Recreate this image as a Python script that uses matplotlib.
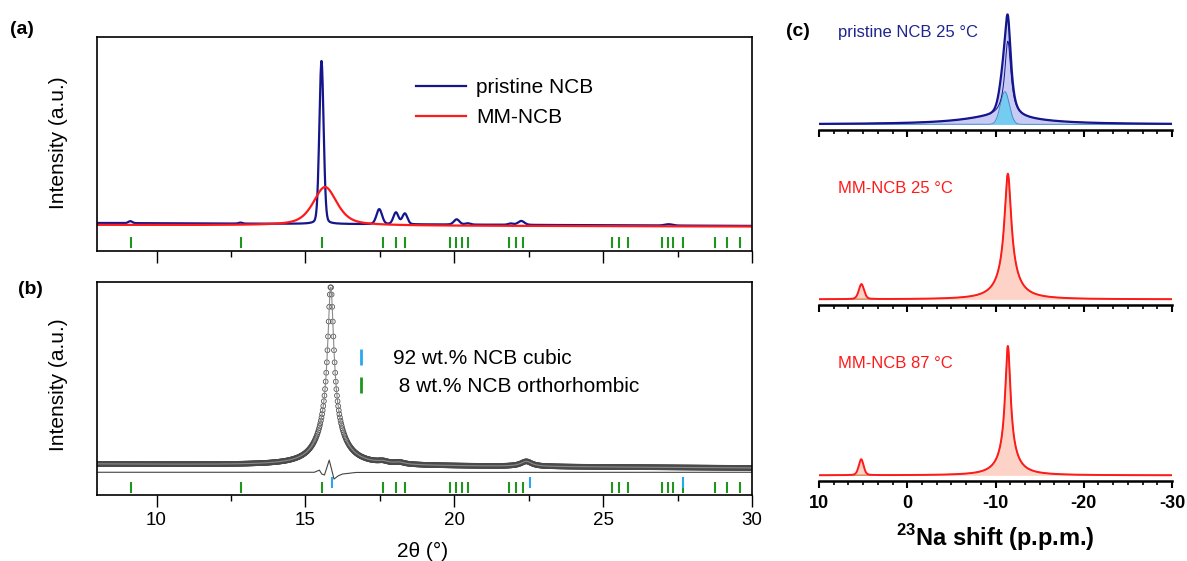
import numpy as np
import matplotlib.pyplot as plt
from matplotlib.ticker import MultipleLocator, AutoMinorLocator
from matplotlib.lines import Line2D

plt.rcParams['font.family'] = ['Liberation Sans', 'DejaVu Sans']
plt.rcParams['mathtext.fontset'] = 'custom'
plt.rcParams['mathtext.rm'] = 'Liberation Sans'
plt.rcParams['mathtext.bf'] = 'Liberation Sans:bold'
plt.rcParams['axes.unicode_minus'] = False

# ---------------------------------------------------------------------------
# data
# ---------------------------------------------------------------------------
# (a) XRD peaks (2theta in deg, intensity normalised to the main pristine peak)
pristine_pos = [9.12, 12.82, 15.54, 17.48, 18.04, 18.34, 20.08, 20.45, 21.90, 22.25, 27.20]
pristine_amp = [0.012, 0.006, 1.0, 0.092, 0.072, 0.066, 0.032, 0.008, 0.008, 0.024, 0.008]
pristine_fwhm = [0.15, 0.15, 0.17, 0.22, 0.20, 0.20, 0.22, 0.20, 0.20, 0.25, 0.30]
pristine_bg = [0.0, -0.018]          # baseline at 8 and 30 deg

mm_pos = [15.66]
mm_amp = [0.236]
mm_fwhm = [0.95]
mm_bg = [-0.012, -0.022]

# (b) Rietveld fit of MM-NCB
obs_pos = [15.85, 15.85, 17.60, 18.15, 22.42]
obs_amp = [0.75, 0.25, 0.010, 0.010, 0.028]
obs_fwhm = [0.24, 0.90, 0.40, 0.40, 0.45]
obs_bg = [0.0, -0.022]
diff_x = [8.0, 15.30, 15.47, 15.55, 15.64, 15.72, 15.80, 15.88, 15.96, 16.10, 16.24, 16.70, 30.0]
diff_y = [-0.046, -0.046, -0.034, -0.056, -0.061, -0.020, 0.022, -0.030, -0.084, -0.066, -0.056, -0.047, -0.046]

# reflection markers
ortho_ticks = [9.15, 12.83, 15.56, 17.60, 18.04, 18.36, 19.86, 20.06, 20.26, 20.47,
               21.85, 22.07, 22.31, 25.29, 25.54, 25.85, 26.99, 27.17, 27.35, 27.69,
               28.76, 29.17, 29.59]
cubic_ticks = [15.88, 22.54, 27.68]

# (c) 23Na NMR components: centre (ppm), height, fwhm (ppm)
pristine_narrow = (-11.40, 0.60, 0.85)
pristine_sky = (-11.06, 0.26, 1.20)
pristine_broad = (-10.50, 0.064, 9.9)

mm25_main = [(-11.40, 0.80, 0.90), (-11.40, 0.20, 2.5)]
mm25_side = (5.19, 0.12, 0.70)
mm87_main = [(-11.40, 0.85, 0.72), (-11.40, 0.18, 2.2)]
mm87_side = (5.22, 0.127, 0.65)


def pv(x, pos, amp, fwhm, eta):
    d = (x - pos) / fwhm
    return amp * (eta / (1 + 4 * d ** 2) + (1 - eta) * np.exp(-4 * np.log(2) * d ** 2))


def pattern(x, pos, amp, fwhm, eta, bg):
    y = bg[0] + (bg[1] - bg[0]) * (x - 8) / 22
    for p, a, w in zip(pos, amp, fwhm):
        y = y + pv(x, p, a, w, eta)
    return y


W, H = 1187, 561


def box(l, t, r, b):
    return [l / W, 1 - b / H, (r - l) / W, (b - t) / H]


fig = plt.figure(figsize=(W / 100, H / 100), dpi=100)


def ftext(x, y, s, **kw):
    fig.text(x / W, 1 - y / H, s, **kw)


navy = '#15158c'
red = '#ff1a1a'
green = '#1e961e'
cyan = '#2aa6f0'

tt = np.arange(8.0, 30.0001, 0.01)
tt_obs = np.arange(8.0, 30.0001, 0.02)

# ---------------------------------------------------------------------------
# (a)
# ---------------------------------------------------------------------------
ax_a = fig.add_axes(box(97, 37, 752, 251))
ax_a.plot(tt, pattern(tt, pristine_pos, pristine_amp, pristine_fwhm, 0.15, pristine_bg),
          color=navy, lw=1.6, label='pristine NCB')
ax_a.plot(tt, pattern(tt, mm_pos, mm_amp, mm_fwhm, 0.6, mm_bg),
          color=red, lw=1.6, label='MM-NCB')
ax_a.vlines(ortho_ticks, 0.014, 0.065, color=green, lw=1.5,
            transform=ax_a.get_xaxis_transform())
ax_a.set_ylim(-0.172, 1.141)
ax_a.legend(loc='upper left', bbox_to_anchor=((416 - 97) / 655, (251 - 78) / 214),
            frameon=False, fontsize=15, handlelength=2.4, handletextpad=0.5,
            borderpad=0, borderaxespad=0, labelspacing=0.55)

# ---------------------------------------------------------------------------
# (b)
# ---------------------------------------------------------------------------
ax_b = fig.add_axes(box(97, 282, 752, 495))
y_obs = pattern(tt_obs, obs_pos, obs_amp, obs_fwhm, 1.0, obs_bg)
ax_b.plot(tt_obs, y_obs, color='#8a8a8a', lw=0.8)
ax_b.scatter(tt_obs, y_obs, s=12, facecolors='none', edgecolors='#4a4a4a',
             linewidths=0.55)
ax_b.plot(diff_x, diff_y, color='#444444', lw=0.8)
ax_b.vlines(ortho_ticks, 0.009, 0.061, color=green, lw=1.5,
            transform=ax_b.get_xaxis_transform())
ax_b.vlines(cubic_ticks, 0.033, 0.085, color=cyan, lw=1.5,
            transform=ax_b.get_xaxis_transform())
ax_b.set_ylim(-0.173, 1.017)
handles = [Line2D([], [], ls='none', marker='|', ms=11, mew=2, color=cyan),
           Line2D([], [], ls='none', marker='|', ms=11, mew=2, color=green)]
ax_b.legend(handles, ['92 wt.% NCB cubic', ' 8 wt.% NCB orthorhombic'],
            loc='upper left', bbox_to_anchor=((351 - 97) / 655, (495 - 349) / 213),
            frameon=False, fontsize=15, handlelength=1.0, handletextpad=1.0,
            borderpad=0, borderaxespad=0, labelspacing=0.45)

for ax in (ax_a, ax_b):
    ax.set_xlim(8, 30)
    ax.set_yticks([])
    ax.xaxis.set_major_locator(MultipleLocator(5))
    ax.xaxis.set_minor_locator(AutoMinorLocator(2))
    ax.tick_params(axis='x', which='major', direction='out', length=8.5, width=1.0,
                   labelsize=13.5, pad=3.5)
    ax.tick_params(axis='x', which='minor', direction='out', length=4, width=1.0)
    for s in ax.spines.values():
        s.set_linewidth(1.2)
ax_a.tick_params(axis='x', labelbottom=False)

# ---------------------------------------------------------------------------
# (c)
# ---------------------------------------------------------------------------
ppm = np.linspace(10, -30, 4001)
scale = 125.6


def lor(x, c):
    return pv(x, c[0], c[1], c[2], 1.0)


def nmr_axes(top, bottom):
    ax = fig.add_axes(box(819, top, 1172, bottom))
    ax.set_xlim(10, -30)
    ax.set_ylim(-0.045, -0.045 + (bottom - top) / scale)
    for k in ('left', 'right', 'top'):
        ax.spines[k].set_visible(False)
    ax.spines['bottom'].set_linewidth(1.8)
    ax.set_yticks([])
    ax.xaxis.set_major_locator(MultipleLocator(10))
    ax.xaxis.set_minor_locator(AutoMinorLocator(6))
    ax.tick_params(axis='x', which='major', direction='out', length=5, width=1.5,
                   labelsize=13, pad=5)
    ax.tick_params(axis='x', which='minor', direction='out', length=2.6, width=1.2)
    ax.patch.set_alpha(0)
    return ax


c1 = nmr_axes(10, 130)
y_n = lor(ppm, pristine_narrow)
y_s = pv(ppm, *pristine_sky, 0.0)
y_b = lor(ppm, pristine_broad)
y_tot = y_n + y_s + y_b
c1.fill_between(ppm, 0, y_tot, color='#c8ccf4', lw=0)
c1.fill_between(ppm, 0, y_s, color='#74cdf0', lw=0)
c1.plot(ppm, y_s, color='#4a8cc8', lw=0.7)
c1.plot(ppm, y_n + y_b, color=navy, lw=0.7)
c1.plot(ppm, y_tot, color=navy, lw=1.6)
c1.tick_params(axis='x', labelbottom=False)

for (top, bottom), main, side, lab in (((165, 305), mm25_main, mm25_side, False),
                                        ((340, 481), mm87_main, mm87_side, True)):
    ax = nmr_axes(top, bottom)
    y_main = sum(lor(ppm, c) for c in main)
    y_side = pv(ppm, *side, 0.3)
    ax.fill_between(ppm, 0, y_main + y_side, color='#fcd3c6', lw=0)
    ax.plot(ppm, y_main, color='#c8783c', lw=0.8)
    ax.plot(ppm, y_main + y_side, color=red, lw=1.4)
    ax.tick_params(axis='x', labelbottom=lab)
    if lab:
        for t in ax.get_xticklabels():
            t.set_fontweight('bold')

# ---------------------------------------------------------------------------
# texts
# ---------------------------------------------------------------------------
ftext(10, 30, '(a)', ha='left', va='center', fontsize=14, fontweight='bold')
ftext(18, 289, '(b)', ha='left', va='center', fontsize=14, fontweight='bold')
ftext(786, 32, '(c)', ha='left', va='center', fontsize=14, fontweight='bold')
ftext(59, 143, 'Intensity (a.u.)', rotation=90, ha='center', va='center', fontsize=15)
ftext(59, 385, 'Intensity (a.u.)', rotation=90, ha='center', va='center', fontsize=15)
ftext(423, 551, '2θ (°)', ha='center', va='center', fontsize=15)
ftext(838, 32, 'pristine NCB 25 °C', ha='left', va='center', fontsize=12, color='#1f2590')
ftext(838, 188, 'MM-NCB 25 °C', ha='left', va='center', fontsize=12, color=red)
ftext(838, 363, 'MM-NCB 87 °C', ha='left', va='center', fontsize=12, color=red)
ftext(995, 538, r'$^{\mathbf{23}}$Na shift (p.p.m.)', ha='center', va='center',
      fontsize=17, fontweight='bold')

fig.savefig('out.png', dpi=100)
